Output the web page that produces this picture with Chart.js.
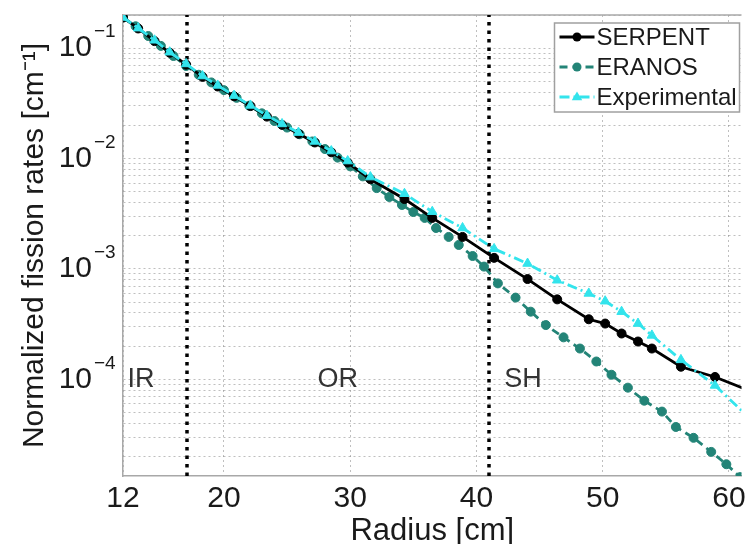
<!DOCTYPE html>
<html><head><meta charset="utf-8">
<script src="https://cdn.jsdelivr.net/npm/chart.js@4.4.1/dist/chart.umd.min.js"></script>
<style>html,body{margin:0;padding:0;background:#fff;overflow:hidden}</style>
</head><body>
<canvas id="c" width="748" height="544"></canvas>
<script>
// ---- data ----
const measRadius = [12, 13.2, 14.5, 15.7, 17.0, 18.3, 19.5, 20.8, 22.1, 23.4, 24.6, 25.9, 27.2, 28.5, 29.8,
  31.6, 34.3, 36.5, 38.9, 41.4, 44.05, 46.4, 48.9, 50.2, 51.5, 52.8, 53.9, 56.2, 58.9, 61.5];
const serpentRates = [0.19, 0.151, 0.116, 0.091, 0.071, 0.055, 0.045, 0.0367, 0.0299, 0.024, 0.0202, 0.0168, 0.014, 0.0114, 0.0092,
  6.5e-3, 4.3e-3, 2.9e-3, 1.95e-3, 1.26e-3, 8.1e-4, 5.3e-4, 3.5e-4, 3.2e-4, 2.6e-4, 2.2e-4, 1.9e-4, 1.3e-4, 1.05e-4, 8.0e-5];
const experimentalRates = [0.19, 0.152, 0.118, 0.092, 0.072, 0.056, 0.046, 0.0372, 0.0303, 0.0245, 0.0206, 0.0172, 0.0143, 0.0117, 0.0095,
  6.8e-3, 4.8e-3, 3.3e-3, 2.35e-3, 1.52e-3, 1.12e-3, 7.9e-4, 6.0e-4, 5.1e-4, 4.1e-4, 3.2e-4, 2.5e-4, 1.5e-4, 8.8e-5, 4.6e-5];
const eranosRadius = [12, 13, 14, 15, 16, 17, 18, 19, 20, 21, 22, 23, 24, 25, 26, 27, 28, 29, 30, 31,
  32.1, 33.1, 34.1, 35.0, 35.9, 36.8, 37.8, 38.6, 39.7, 40.6, 41.7, 43.1, 44.3, 45.5, 46.9, 48.2,
  49.5, 50.7, 52.0, 53.3, 54.7, 55.8, 57.2, 58.6, 59.8, 60.9, 62.0];
const eranosRates = [0.19, 0.158, 0.129, 0.105, 0.085, 0.069, 0.0575, 0.049, 0.0417, 0.0355, 0.0302, 0.0257, 0.0219, 0.0191, 0.0166, 0.0143, 0.0122, 0.0102, 0.0085, 0.0069,
  5.4e-3, 4.49e-3, 3.8e-3, 3.28e-3, 2.9e-3, 2.35e-3, 1.95e-3, 1.65e-3, 1.31e-3, 1.05e-3, 7.4e-4, 5.5e-4, 4.1e-4, 3.1e-4, 2.4e-4, 1.9e-4,
  1.45e-4, 1.1e-4, 8.4e-5, 6.4e-5, 5.1e-5, 3.7e-5, 2.95e-5, 2.2e-5, 1.7e-5, 1.3e-5, 1.0e-5];
const seriesNames = ['SERPENT', 'ERANOS', 'Experimental'];
const xTickValues = [12, 20, 30, 40, 50, 60];
const yDecadeValues = [1e-4, 1e-3, 1e-2, 1e-1];
const yDecadeBase = '10';
const yDecadeExponents = ['\u22124', '\u22123', '\u22122', '\u22121'];
const regionBoundaries = [17.1, 41.0];
const regionNames = ['IR', 'OR', 'SH'];
const regionLabelRadius = [12.35, 27.4, 42.2];
const regionLabelLevel = 1e-4;
const X_MIN = 12, X_MAX = 61, Y_MIN = 1.33e-5, Y_MAX = 0.2;

// ---- styling ----
const FONT = "'Liberation Sans', Arial, sans-serif";
const C_SERP = '#000000', C_ERAN = '#238477', C_EXP = '#33e4ec';
const DASH_ERAN = [8, 5], DASH_EXP = [10, 4, 2, 4];

const toXY = (xs, ys) => xs.map((x, i) => ({x, y: ys[i]}));
const decadeIndex = v => yDecadeValues.findIndex(d => Math.abs(d - v) / d < 1e-6);

// y ticks: 1..9 x 10^k inside range
const yTickValues = [];
for (let k = -5; k <= -1; k++) for (let m = 1; m <= 9; m++) {
  const v = m * Math.pow(10, k);
  if (v >= Y_MIN && v <= Y_MAX) yTickValues.push(v);
}

const overlay = {
  id: 'overlay',
  beforeDatasetsDraw(chart) {
    const {ctx, chartArea: a, scales: {x, y}} = chart;
    ctx.save();
    ctx.strokeStyle = '#a8a8a8'; ctx.lineWidth = 1.5; ctx.setLineDash([]);
    ctx.beginPath(); ctx.moveTo(a.left, a.top); ctx.lineTo(a.right, a.top); ctx.stroke();
    ctx.strokeStyle = '#000'; ctx.lineWidth = 3.5; ctx.setLineDash([3.5, 5]);
    regionBoundaries.forEach(r => {
      const px = Math.round(x.getPixelForValue(r));
      ctx.beginPath(); ctx.moveTo(px, a.bottom); ctx.lineTo(px, a.top); ctx.stroke();
    });
    ctx.setLineDash([]);
    ctx.fillStyle = '#333'; ctx.font = '27px ' + FONT;
    ctx.textAlign = 'left'; ctx.textBaseline = 'middle';
    regionNames.forEach((n, i) => {
      ctx.fillText(n, x.getPixelForValue(regionLabelRadius[i]), y.getPixelForValue(regionLabelLevel));
    });
    ctx.restore();
  },
  afterDraw(chart) {
    const {ctx, chartArea: a, scales: {y}} = chart;
    ctx.save();
    // exponents of the decade tick labels
    ctx.fillStyle = '#1a1a1a'; ctx.font = '19px ' + FONT;
    ctx.textAlign = 'left'; ctx.textBaseline = 'middle';
    yDecadeValues.forEach((v, i) => {
      ctx.fillText(yDecadeExponents[i], a.left - 29, y.getPixelForValue(v) - 16);
    });
    // legend
    const bx = a.right - 187, by = a.top + 8, bw = 185, bh = 89;
    ctx.fillStyle = '#fff'; ctx.fillRect(bx, by, bw, bh);
    ctx.strokeStyle = '#a0a0a0'; ctx.lineWidth = 1.5; ctx.strokeRect(bx, by, bw, bh);
    chart.data.datasets.slice().sort((p, q) => p.legendIndex - q.legendIndex).forEach((ds, i) => {
      const cy = by + 14 + i * 30;
      const x0 = bx + 5, x1 = bx + 40, xm = (x0 + x1) / 2;
      ctx.strokeStyle = ds.borderColor; ctx.lineWidth = ds.borderWidth;
      ctx.setLineDash(ds.borderDash || []);
      ctx.beginPath(); ctx.moveTo(x0, cy); ctx.lineTo(x1, cy); ctx.stroke();
      ctx.setLineDash([]);
      ctx.fillStyle = ds.pointBackgroundColor;
      ctx.beginPath();
      if (ds.pointStyle === 'triangle') {
        const r = ds.pointRadius;
        ctx.moveTo(xm, cy - r); ctx.lineTo(xm + r * 0.95, cy + r * 0.6); ctx.lineTo(xm - r * 0.95, cy + r * 0.6); ctx.closePath();
      } else {
        ctx.arc(xm, cy, ds.pointRadius, 0, Math.PI * 2);
      }
      ctx.fill();
      ctx.fillStyle = '#1a1a1a'; ctx.font = '24px ' + FONT;
      ctx.textAlign = 'left'; ctx.textBaseline = 'middle';
      ctx.fillText(ds.label, x1 + 2, cy + 1);
    });
    ctx.restore();
  }
};

new Chart(document.getElementById('c'), {
  type: 'line',
  data: {
    datasets: [
      { label: seriesNames[2], legendIndex: 2, order: 0, data: toXY(measRadius, experimentalRates),
        borderColor: C_EXP, backgroundColor: C_EXP, pointBackgroundColor: C_EXP, pointBorderColor: C_EXP,
        borderWidth: 2.8, borderDash: DASH_EXP, pointStyle: 'triangle', pointRadius: 5.5, pointBorderWidth: 1 },
      { label: seriesNames[0], legendIndex: 0, order: 1, data: toXY(measRadius, serpentRates),
        borderColor: C_SERP, backgroundColor: C_SERP, pointBackgroundColor: C_SERP, pointBorderColor: C_SERP,
        borderWidth: 2.8, pointStyle: 'circle', pointRadius: 4.5, pointBorderWidth: 1 },
      { label: seriesNames[1], legendIndex: 1, order: 2, data: toXY(eranosRadius, eranosRates),
        borderColor: C_ERAN, backgroundColor: C_ERAN, pointBackgroundColor: C_ERAN, pointBorderColor: C_ERAN,
        borderWidth: 2.8, borderDash: DASH_ERAN, pointStyle: 'circle', pointRadius: 4.5, pointBorderWidth: 1 }
    ]
  },
  options: {
    responsive: false, animation: false, devicePixelRatio: 1,
    layout: { padding: { top: 15, right: 0, left: 0, bottom: 0 } },
    plugins: { legend: { display: false }, tooltip: { enabled: false } },
    elements: { line: { tension: 0 } },
    scales: {
      x: {
        type: 'linear', min: X_MIN, max: X_MAX,
        afterBuildTicks: s => { s.ticks = xTickValues.map(v => ({value: v})); },
        afterFit: s => { s.height = 68; s.paddingLeft = 0; s.paddingRight = 0; },
        ticks: { autoSkip: false, maxRotation: 0, padding: 5, color: '#1a1a1a', font: { family: FONT, size: 30 } },
        grid: { color: 'rgba(0,0,0,0.25)', lineWidth: 1, drawTicks: false },
        border: { display: true, color: '#a8a8a8', width: 1.5, dash: [2, 3] },
        title: { display: true, text: 'Radius [cm]', color: '#1a1a1a', font: { family: FONT, size: 31 }, padding: { top: 0, bottom: -6 } }
      },
      y: {
        type: 'logarithmic', min: Y_MIN, max: Y_MAX,
        afterBuildTicks: s => { s.ticks = yTickValues.map(v => ({value: v})); },
        afterFit: s => { s.width = 123; s.paddingTop = 0; s.paddingBottom = 0; },
        ticks: {
          autoSkip: false, padding: 31, color: '#1a1a1a', font: { family: FONT, size: 30 },
          callback: v => decadeIndex(v) >= 0 ? yDecadeBase : ''
        },
        grid: { color: 'rgba(0,0,0,0.25)', lineWidth: 1, drawTicks: false },
        border: { display: true, color: '#a8a8a8', width: 1.5, dash: [2, 3] },
        title: { display: true, text: 'Normalized fission rates [cm\u207B\u00B9]', color: '#1a1a1a', font: { family: FONT, size: 30 }, padding: { top: 17, bottom: 0 } }
      }
    }
  },
  plugins: [overlay]
});
</script>
</body></html>
